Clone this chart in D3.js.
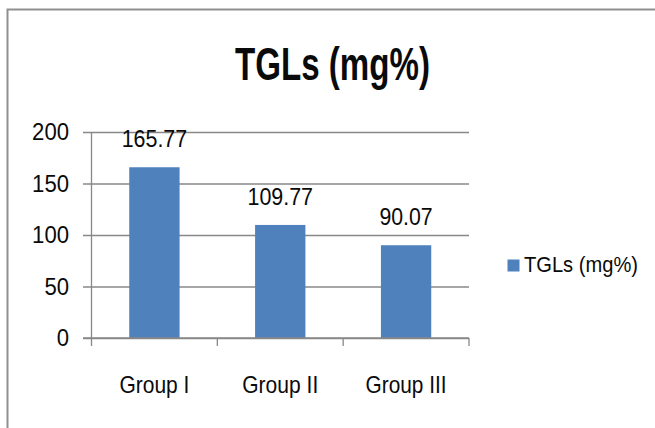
<!DOCTYPE html>
<html>
<head>
<meta charset="utf-8">
<script src="https://cdn.jsdelivr.net/npm/d3@7"></script>
<style>
  html, body { margin: 0; padding: 0; background: #fff; }
  svg { display: block; }
  text { font-family: "Liberation Sans", Arial, sans-serif; fill: #0a0a0a; }
</style>
</head>
<body>
<svg id="chart" width="655" height="428"></svg>
<script>
const categories = ["Group I", "Group II", "Group III"];
const values = [165.77, 109.77, 90.07];
const yTicks = [0, 50, 100, 150, 200];
const seriesName = "TGLs (mg%)";
const titleText = "TGLs (mg%)";

const svg = d3.select("#chart");
const W = 655, H = 428;

// width of numeric strings, condensed like the reference
const numWidth = s => s.replace(/[^0-9]/g, "").length * 12.3 + (s.includes(".") ? 4 : 0);

// outer border (top and left visible)
svg.append("path")
  .attr("d", `M7.5,${H} L7.5,9.5 L${W},9.5`)
  .attr("fill", "none")
  .attr("stroke", "#8f8f8f")
  .attr("stroke-width", 2);

const plotL = 91.5, plotR = 469, plotT = 132, plotB = 338;

const x = d3.scaleBand().domain(categories).range([plotL, plotR])
  .paddingInner(0.6).paddingOuter(0.3);
const y = d3.scaleLinear().domain([0, 200]).range([plotB, plotT]);

const gridColor = "#888888";

// Y axis with gridlines
const yAxis = d3.axisLeft(y).tickValues(yTicks)
  .tickSize(-(plotR - 83)).tickPadding(14);
const gy = svg.append("g").attr("transform", "translate(83,0)").call(yAxis);
gy.select(".domain").remove();
gy.selectAll(".tick line").attr("stroke", gridColor).attr("stroke-width", 1.3);
gy.selectAll(".tick text")
  .style("font-size", "24px")
  .attr("fill", "#0a0a0a")
  .attr("textLength", d => numWidth(String(d)))
  .attr("lengthAdjust", "spacingAndGlyphs");

// vertical axis line
svg.append("line")
  .attr("x1", plotL).attr("x2", plotL)
  .attr("y1", plotT).attr("y2", plotB + 8)
  .attr("stroke", gridColor).attr("stroke-width", 1.3);

// X axis category boundary ticks
const step = x.step();
const bounds = d3.range(categories.length + 1).map(i => plotL + i * step);
svg.selectAll("line.xtick").data(bounds.slice(1)).enter().append("line")
  .attr("class", "xtick")
  .attr("x1", d => d).attr("x2", d => d)
  .attr("y1", plotB).attr("y2", plotB + 8)
  .attr("stroke", gridColor).attr("stroke-width", 1.3);

// bars
svg.selectAll("rect.bar").data(values).enter().append("rect")
  .attr("class", "bar")
  .attr("x", (d, i) => x(categories[i]))
  .attr("width", x.bandwidth())
  .attr("y", d => y(d))
  .attr("height", d => y(0) - y(d))
  .attr("fill", "#4f81bd");

// x axis line
svg.append("line")
  .attr("x1", 83).attr("x2", plotR)
  .attr("y1", plotB).attr("y2", plotB)
  .attr("stroke", gridColor).attr("stroke-width", 1.3);

// value labels
svg.selectAll("text.val").data(values).enter().append("text")
  .attr("class", "val")
  .attr("x", (d, i) => x(categories[i]) + x.bandwidth() / 2)
  .attr("y", d => y(d) - 20)
  .attr("text-anchor", "middle")
  .attr("textLength", d => numWidth(d.toFixed(2)))
  .attr("lengthAdjust", "spacingAndGlyphs")
  .style("font-size", "24px")
  .text(d => d.toFixed(2));

// category labels
const catWidths = [70, 76, 81];
svg.selectAll("text.cat").data(categories).enter().append("text")
  .attr("class", "cat")
  .attr("x", d => x(d) + x.bandwidth() / 2)
  .attr("y", 393)
  .attr("text-anchor", "middle")
  .attr("textLength", (d, i) => catWidths[i])
  .attr("lengthAdjust", "spacingAndGlyphs")
  .style("font-size", "24px")
  .text(d => d);

// title
svg.append("text")
  .attr("x", 332.5).attr("y", 80)
  .attr("text-anchor", "middle")
  .attr("textLength", 195)
  .attr("lengthAdjust", "spacingAndGlyphs")
  .style("font-size", "46px")
  .style("font-weight", "bold")
  .text(titleText);

// legend
svg.append("rect")
  .attr("x", 507.5).attr("y", 259.5)
  .attr("width", 12).attr("height", 12)
  .attr("fill", "#4f81bd");
svg.append("text")
  .attr("x", 524).attr("y", 271.5)
  .attr("textLength", 114)
  .attr("lengthAdjust", "spacingAndGlyphs")
  .style("font-size", "22px")
  .text(seriesName);
</script>
</body>
</html>
